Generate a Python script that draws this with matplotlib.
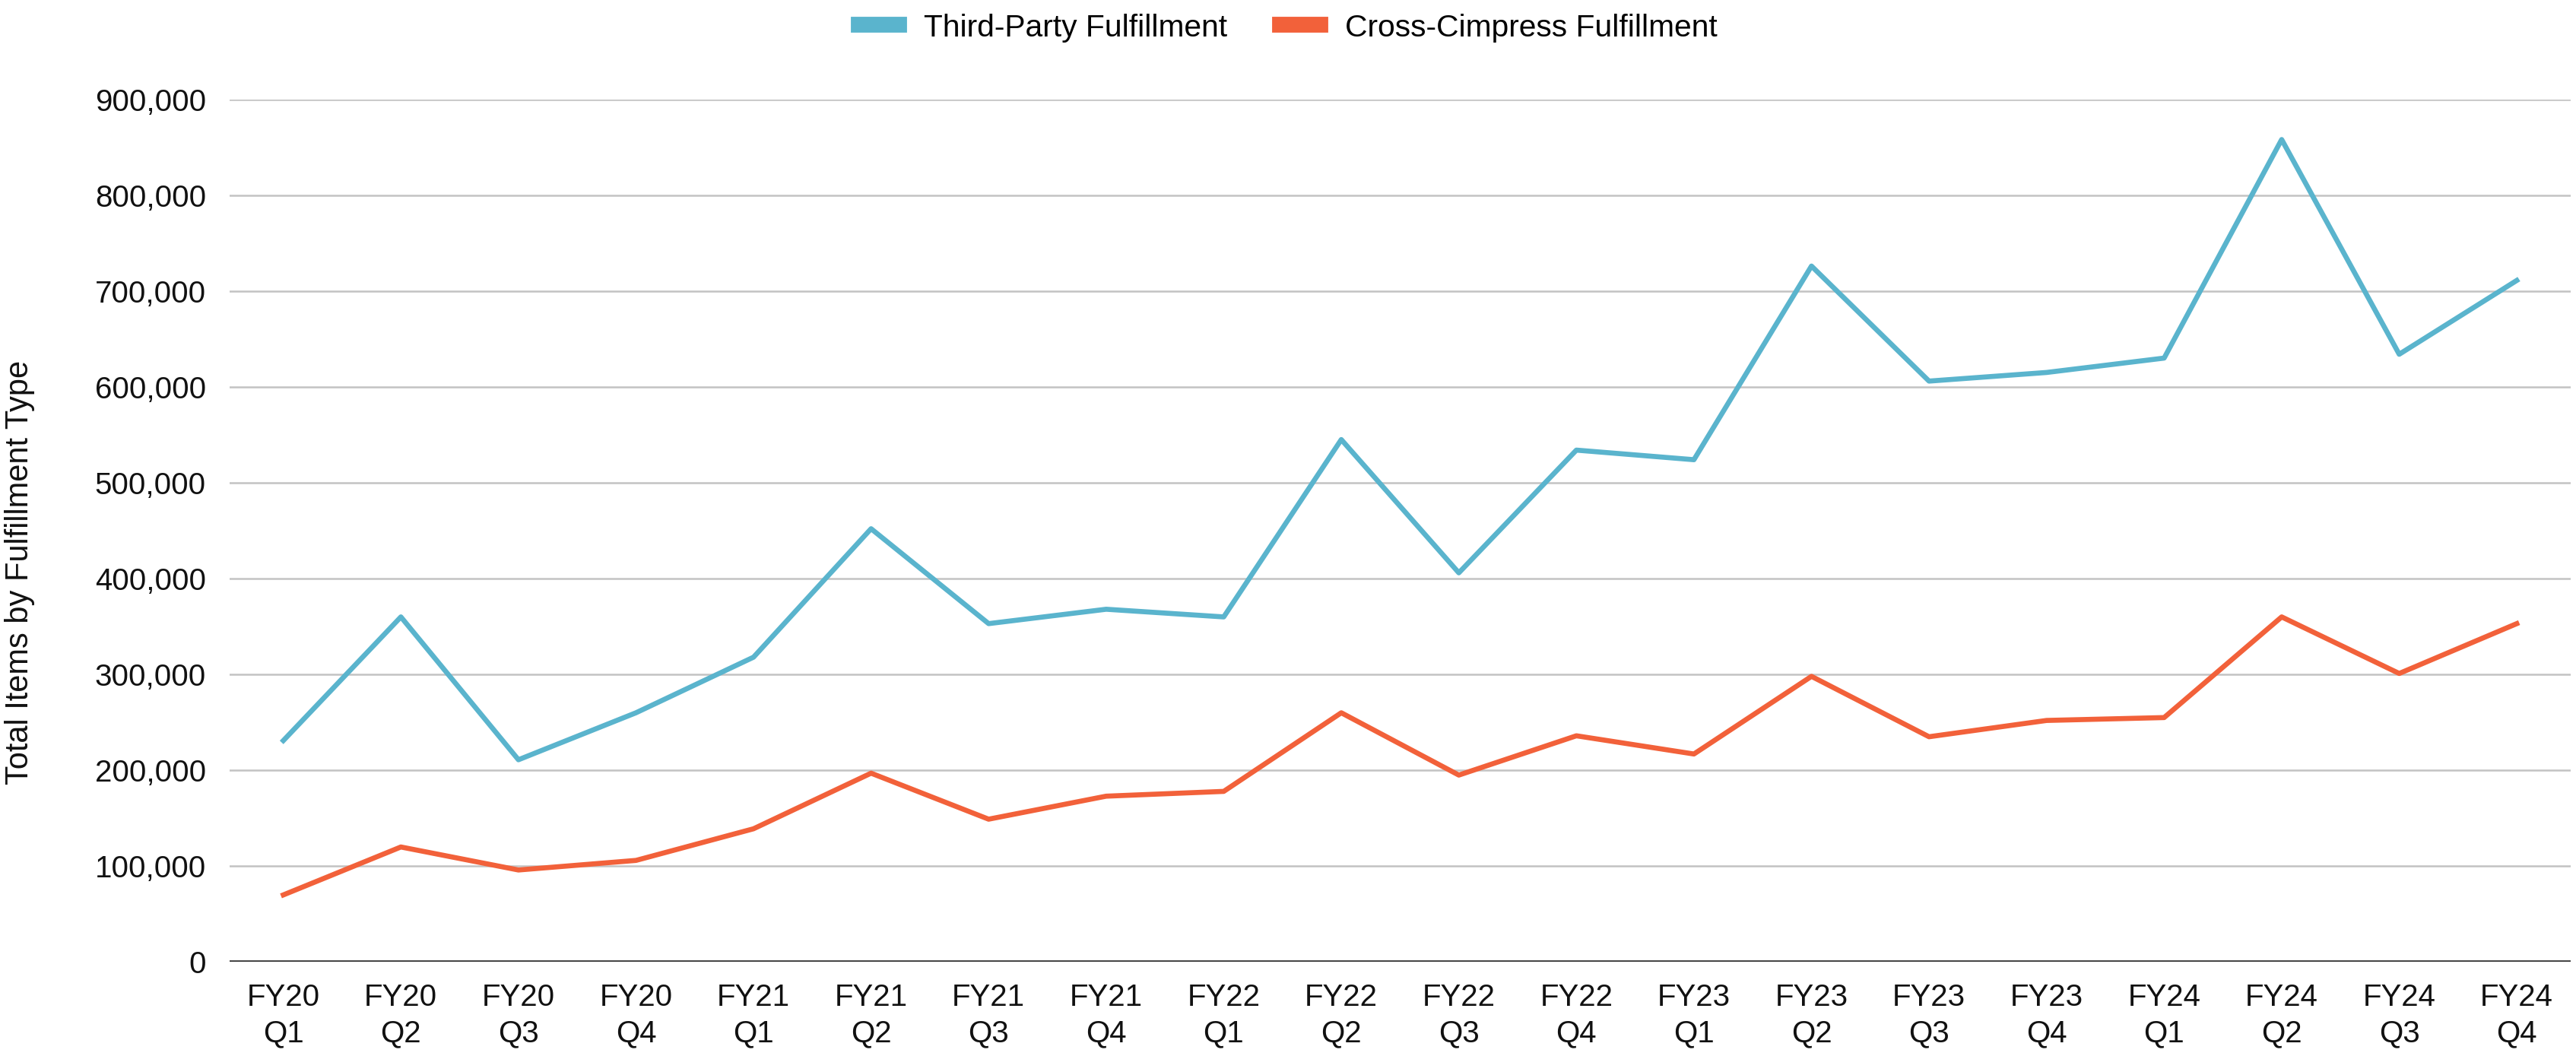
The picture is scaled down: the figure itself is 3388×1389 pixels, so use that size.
#import library
import matplotlib.pyplot as plt
from matplotlib.ticker import FuncFormatter

plt.rcParams['font.family'] = ['Liberation Sans', 'DejaVu Sans']

#define datasets
quarters = [
    "FY20\nQ1", "FY20\nQ2", "FY20\nQ3", "FY20\nQ4",
    "FY21\nQ1", "FY21\nQ2", "FY21\nQ3", "FY21\nQ4",
    "FY22\nQ1", "FY22\nQ2", "FY22\nQ3", "FY22\nQ4",
    "FY23\nQ1", "FY23\nQ2", "FY23\nQ3", "FY23\nQ4",
    "FY24\nQ1", "FY24\nQ2", "FY24\nQ3", "FY24\nQ4",
]

third_party = [
    231000, 360000, 211000, 260000,
    318000, 452000, 353000, 368000,
    360000, 545000, 406000, 534000,
    524000, 726000, 606000, 615000,
    630000, 858000, 634000, 711000,
]

cross_cimpress = [
    70000, 120000, 96000, 106000,
    139000, 197000, 149000, 173000,
    178000, 260000, 195000, 236000,
    217000, 298000, 235000, 252000,
    255000, 360000, 301000, 353000,
]

#define fig and plot size
fig = plt.figure(figsize=(16.94, 6.945), dpi=200)
ax = fig.add_axes([0.089, 0.089, 0.909, 0.817])

x = range(len(quarters))

#define lines
ax.plot(x, third_party, color="#5AB4CD", linewidth=2.4,
        label="Third-Party Fulfillment", zorder=3)
ax.plot(x, cross_cimpress, color="#F2613A", linewidth=2.4,
        label="Cross-Cimpress Fulfillment", zorder=3)

#axes and ticks
ax.set_xlim(-0.46, len(quarters) - 0.54)
ax.set_ylim(0, 900000)
ax.set_yticks(range(0, 900001, 100000))
ax.yaxis.set_major_formatter(FuncFormatter(lambda v, p: f"{int(v):,}"))
ax.set_xticks(list(x))
ax.set_xticklabels(quarters, linespacing=1.3)
ax.tick_params(axis="both", length=0, labelsize=14.5, colors="#111111")
ax.tick_params(axis="x", pad=10)
ax.tick_params(axis="y", pad=11)

for spine in ax.spines.values():
    spine.set_visible(False)

#grid
ax.grid(True, axis="y", color="#c3c3c3", linewidth=0.9, zorder=0)
ax.axhline(0, color="#333333", linewidth=1.3, zorder=2)
ax.set_axisbelow(True)

#label
ax.set_ylabel("Total Items by Fulfillment Type", fontsize=15, color="#111111")
ax.yaxis.set_label_coords(-0.083, 0.452)

#legend
handles, labels = ax.get_legend_handles_labels()
leg = fig.legend(
    handles, labels,
    loc="upper center", bbox_to_anchor=(0.5, 1.015),
    ncol=2, frameon=False, fontsize=14.7,
    handlelength=1.3, handleheight=1.0, columnspacing=1.7, handletextpad=0.8,
)
for h in leg.legend_handles:
    h.set_linewidth(7.5)

plt.savefig("out.png", dpi=200)
